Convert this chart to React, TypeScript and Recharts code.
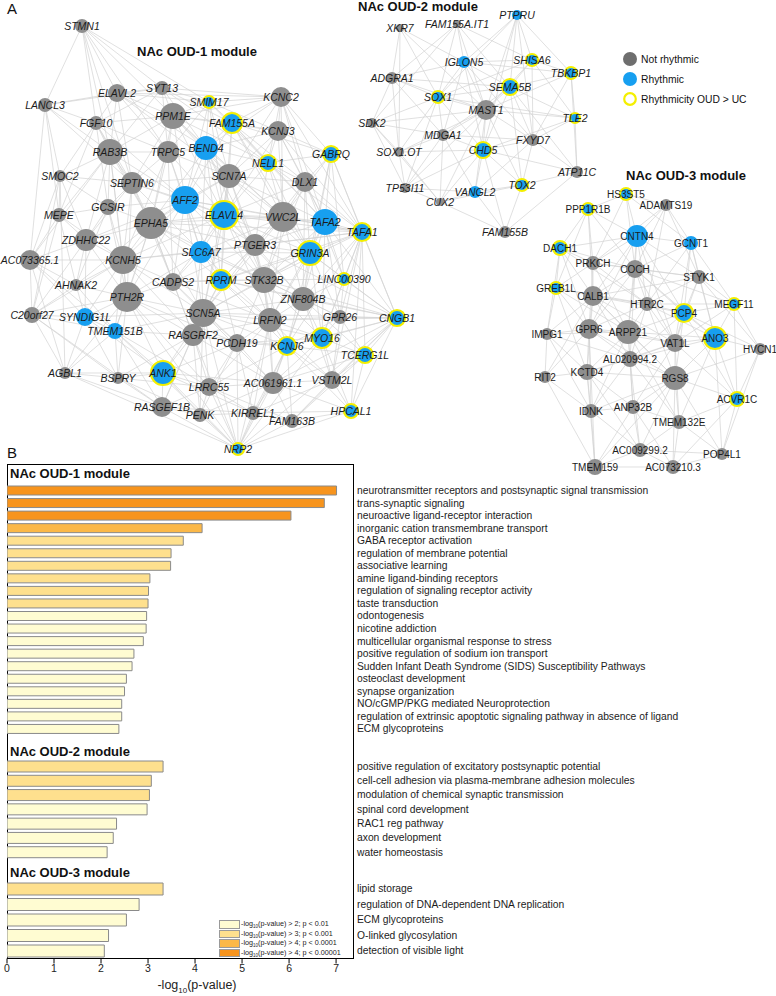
import React from 'react'
import { ComposedChart, Line, Scatter, XAxis, YAxis, BarChart, Bar, Cell } from 'recharts'

type Kind = 'n' | 'r' | 'y' // not rhythmic, rhythmic, rhythmic + OUD > UC ring
type NodeRow = [string, number, number, number, Kind]

const FONT = '"Liberation Sans", Arial, Helvetica, sans-serif'
const GRAY = '#8e8e8e'
const BLUE = '#179ff0'
const YELLOW = '#f4ef00'
const EDGE = '#d2d2d2'

// ---- panel A: co-expression modules (layout coordinates) ----
const OUD1_NODES: NodeRow[] = [
  ['STMN1', 82, 26, 7, 'n'], ['LANCL3', 45, 105, 7, 'n'], ['ELAVL2', 117, 93, 9, 'n'],
  ['SYT13', 162, 88, 7, 'n'], ['SMIM17', 209, 102, 6, 'y'], ['KCNC2', 281, 97, 10, 'n'],
  ['FGF10', 96, 123, 7, 'n'], ['PPM1E', 173, 116, 13, 'n'], ['FAM155A', 232, 123, 10, 'y'],
  ['KCNJ3', 278, 131, 10, 'n'], ['RAB3B', 110, 152, 13, 'n'], ['TRPC5', 168, 152, 11, 'n'],
  ['BEND4', 206, 148, 12, 'r'], ['NELL1', 268, 163, 8, 'y'], ['GABRQ', 331, 154, 8, 'y'],
  ['SMOC2', 60, 176, 6, 'n'], ['SEPTIN6', 132, 183, 11, 'n'], ['SCN7A', 229, 176, 12, 'n'],
  ['DLX1', 305, 182, 10, 'n'], ['AFF2', 185, 200, 14, 'r'], ['MEPE', 59, 215, 7, 'n'],
  ['GCSIR', 108, 207, 8, 'n'], ['ELAVL4', 224, 215, 14, 'y'], ['VWC2L', 283, 217, 15, 'n'],
  ['TAFA2', 325, 222, 13, 'r'], ['EPHA5', 151, 223, 16, 'n'], ['TAFA1', 362, 232, 9, 'y'],
  ['ZDHHC22', 86, 240, 11, 'n'], ['AC073365.1', 30, 260, 10, 'n'], ['PTGER3', 255, 245, 11, 'n'],
  ['SLC6A7', 201, 252, 11, 'r'], ['GRIN3A', 310, 253, 12, 'y'], ['KCNH5', 123, 260, 14, 'n'],
  ['CADPS2', 173, 282, 9, 'n'], ['RPRM', 221, 280, 10, 'y'], ['STK32B', 264, 280, 13, 'n'],
  ['LINC00390', 344, 279, 6, 'y'], ['AHNAK2', 76, 285, 6, 'n'], ['PTH2R', 127, 297, 15, 'n'],
  ['ZNF804B', 303, 299, 12, 'n'], ['C20orf27', 32, 315, 8, 'n'], ['SYNDIG1L', 85, 317, 9, 'r'],
  ['SCN5A', 203, 313, 14, 'n'], ['LRFN2', 270, 320, 12, 'n'], ['GPR26', 340, 317, 7, 'n'],
  ['CNGB1', 397, 318, 8, 'y'], ['TMEM151B', 115, 331, 8, 'r'], ['RASGRF2', 193, 335, 11, 'n'],
  ['PCDH19', 237, 343, 9, 'n'], ['KCNJ6', 287, 346, 9, 'y'], ['MYO16', 322, 338, 10, 'y'],
  ['TCERG1L', 365, 355, 8, 'y'], ['AGBL1', 65, 373, 6, 'n'], ['BSPRY', 118, 378, 6, 'n'],
  ['ANK1', 163, 373, 12, 'y'], ['LRRC55', 209, 387, 9, 'n'], ['AC061961.1', 273, 383, 11, 'n'],
  ['VSTM2L', 332, 380, 9, 'n'], ['RASGEF1B', 162, 407, 10, 'n'], ['PENK', 200, 415, 7, 'n'],
  ['KIRREL1', 253, 413, 7, 'n'], ['HPCAL1', 351, 411, 7, 'y'], ['FAM163B', 292, 421, 7, 'n'],
  ['NRP2', 238, 449, 6, 'y'],
]

const OUD1_EDGES: [string, string][] = [
  ['STMN1', 'LANCL3 ELAVL2 SYT13 FGF10 RAB3B SMIM17 PPM1E SEPTIN6 TRPC5'],
  ['LANCL3', 'ELAVL2 FGF10 SMOC2 RAB3B MEPE SYT13 AC073365.1 SEPTIN6'],
  ['ELAVL2', 'SYT13 SMIM17 PPM1E FGF10 RAB3B TRPC5 BEND4 KCNC2 SEPTIN6 SCN7A'],
  ['SYT13', 'SMIM17 KCNC2 PPM1E FAM155A BEND4 TRPC5 RAB3B FGF10 NELL1'],
  ['SMIM17', 'KCNC2 PPM1E FAM155A BEND4 KCNJ3 SCN7A NELL1 ELAVL4 AFF2 TRPC5'],
  ['KCNC2', 'KCNJ3 FAM155A GABRQ NELL1 DLX1 TAFA1 VWC2L SCN7A BEND4 PPM1E TAFA2'],
  ['FGF10', 'RAB3B PPM1E TRPC5 SEPTIN6 GCSIR SMOC2 MEPE EPHA5 AFF2'],
  ['PPM1E', 'FAM155A BEND4 TRPC5 RAB3B SCN7A AFF2 SEPTIN6 EPHA5 ELAVL4 KCNJ3 NELL1 VWC2L'],
  ['FAM155A', 'KCNJ3 BEND4 NELL1 SCN7A GABRQ ELAVL4 AFF2 DLX1 TAFA2 VWC2L GRIN3A'],
  ['KCNJ3', 'GABRQ NELL1 DLX1 SCN7A VWC2L TAFA2 ELAVL4 BEND4 TAFA1'],
  ['RAB3B', 'TRPC5 SEPTIN6 GCSIR EPHA5 ZDHHC22 KCNH5 AFF2 SMOC2 MEPE AC073365.1 PTH2R'],
  ['TRPC5', 'BEND4 SEPTIN6 AFF2 SCN7A EPHA5 ELAVL4 KCNH5 SLC6A7 CADPS2'],
  ['BEND4', 'SCN7A AFF2 ELAVL4 NELL1 EPHA5 SLC6A7 VWC2L PTGER3 RPRM STK32B'],
  ['NELL1', 'GABRQ DLX1 SCN7A VWC2L TAFA2 ELAVL4 GRIN3A TAFA1 PTGER3'],
  ['GABRQ', 'DLX1 TAFA1 TAFA2 VWC2L GRIN3A CNGB1 LINC00390 ZNF804B'],
  ['SMOC2', 'MEPE GCSIR AC073365.1 ZDHHC22 SEPTIN6 C20orf27 AGBL1'],
  ['SEPTIN6', 'GCSIR EPHA5 AFF2 ZDHHC22 KCNH5 SCN7A ELAVL4 PTH2R CADPS2 SLC6A7'],
  ['SCN7A', 'AFF2 ELAVL4 DLX1 VWC2L EPHA5 SLC6A7 PTGER3 TAFA2 GRIN3A RPRM STK32B SCN5A'],
  ['DLX1', 'VWC2L TAFA2 TAFA1 GRIN3A ELAVL4 PTGER3 ZNF804B STK32B LINC00390'],
  ['AFF2', 'ELAVL4 EPHA5 SLC6A7 KCNH5 PTGER3 CADPS2 RPRM VWC2L PTH2R SCN5A STK32B ZDHHC22'],
  ['MEPE', 'GCSIR ZDHHC22 AC073365.1 AHNAK2 C20orf27 KCNH5'],
  ['GCSIR', 'EPHA5 ZDHHC22 KCNH5 AFF2 AHNAK2 PTH2R'],
  ['ELAVL4', 'VWC2L EPHA5 SLC6A7 PTGER3 TAFA2 GRIN3A RPRM STK32B SCN5A CADPS2 LRFN2 ZNF804B KCNH5'],
  ['VWC2L', 'TAFA2 PTGER3 GRIN3A STK32B RPRM ZNF804B LRFN2 TAFA1 SLC6A7 SCN5A EPHA5'],
  ['TAFA2', 'GRIN3A TAFA1 PTGER3 STK32B ZNF804B LINC00390 LRFN2 MYO16 GPR26'],
  ['EPHA5', 'KCNH5 SLC6A7 ZDHHC22 PTH2R CADPS2 PTGER3 RPRM SCN5A STK32B RASGRF2 TMEM151B AHNAK2'],
  ['TAFA1', 'GRIN3A LINC00390 CNGB1 ZNF804B GPR26 STK32B PTGER3 MYO16 TCERG1L SLC6A7 RPRM KCNJ6 ELAVL4 AFF2 EPHA5 HPCAL1 VSTM2L'],
  ['ZDHHC22', 'KCNH5 AC073365.1 AHNAK2 PTH2R C20orf27 SYNDIG1L'],
  ['AC073365.1', 'C20orf27 AHNAK2 KCNH5 SYNDIG1L AGBL1 TMEM151B'],
  ['PTGER3', 'SLC6A7 GRIN3A STK32B RPRM ZNF804B CADPS2 SCN5A LRFN2 KCNH5'],
  ['SLC6A7', 'KCNH5 CADPS2 RPRM STK32B PTH2R SCN5A GRIN3A RASGRF2 LRFN2'],
  ['GRIN3A', 'STK32B LINC00390 ZNF804B LRFN2 GPR26 MYO16 RPRM CNGB1 KCNJ6 SCN5A'],
  ['KCNH5', 'PTH2R CADPS2 AHNAK2 SYNDIG1L SCN5A TMEM151B RASGRF2 C20orf27'],
  ['CADPS2', 'RPRM PTH2R SCN5A STK32B RASGRF2 LRFN2 PCDH19'],
  ['RPRM', 'STK32B SCN5A LRFN2 ZNF804B PCDH19 RASGRF2 KCNJ6'],
  ['STK32B', 'ZNF804B LRFN2 SCN5A LINC00390 GPR26 KCNJ6 MYO16 PCDH19 AC061961.1'],
  ['LINC00390', 'ZNF804B GPR26 CNGB1 MYO16'],
  ['AHNAK2', 'PTH2R C20orf27 SYNDIG1L TMEM151B'],
  ['PTH2R', 'SCN5A SYNDIG1L TMEM151B RASGRF2 ANK1 AGBL1 BSPRY LRRC55 C20orf27 PCDH19'],
  ['ZNF804B', 'LRFN2 GPR26 MYO16 KCNJ6 CNGB1 SCN5A AC061961.1 VSTM2L TCERG1L'],
  ['C20orf27', 'SYNDIG1L AGBL1 TMEM151B BSPRY RASGEF1B'],
  ['SYNDIG1L', 'TMEM151B AGBL1 BSPRY ANK1 SCN5A'],
  ['SCN5A', 'LRFN2 RASGRF2 PCDH19 TMEM151B ANK1 LRRC55 KCNJ6 AC061961.1 MYO16 RASGEF1B PENK'],
  ['LRFN2', 'GPR26 MYO16 KCNJ6 PCDH19 AC061961.1 RASGRF2 VSTM2L LRRC55 KIRREL1'],
  ['GPR26', 'MYO16 CNGB1 TCERG1L VSTM2L KCNJ6'],
  ['CNGB1', 'MYO16 TCERG1L HPCAL1 VSTM2L KCNJ6 LRFN2 STK32B PTGER3 AC061961.1 FAM163B NRP2 TAFA2 SCN5A RPRM'],
  ['TMEM151B', 'RASGRF2 ANK1 BSPRY AGBL1 LRRC55 RASGEF1B'],
  ['RASGRF2', 'PCDH19 ANK1 LRRC55 KCNJ6 AC061961.1 RASGEF1B PENK BSPRY'],
  ['PCDH19', 'KCNJ6 MYO16 LRRC55 AC061961.1 ANK1 KIRREL1 PENK'],
  ['KCNJ6', 'MYO16 AC061961.1 VSTM2L TCERG1L KIRREL1 HPCAL1 LRRC55 FAM163B'],
  ['MYO16', 'TCERG1L VSTM2L AC061961.1 HPCAL1'],
  ['TCERG1L', 'VSTM2L HPCAL1 AC061961.1 FAM163B'],
  ['AGBL1', 'BSPRY ANK1 RASGEF1B NRP2'],
  ['BSPRY', 'ANK1 RASGEF1B LRRC55 PENK'],
  ['ANK1', 'LRRC55 RASGEF1B PENK AC061961.1 KIRREL1 NRP2'],
  ['LRRC55', 'AC061961.1 RASGEF1B PENK KIRREL1 NRP2 FAM163B'],
  ['AC061961.1', 'VSTM2L KIRREL1 HPCAL1 FAM163B PENK NRP2'],
  ['VSTM2L', 'HPCAL1 FAM163B KIRREL1'],
  ['RASGEF1B', 'PENK NRP2 KIRREL1'],
  ['PENK', 'KIRREL1 NRP2'],
  ['KIRREL1', 'FAM163B NRP2 HPCAL1'],
  ['HPCAL1', 'FAM163B NRP2'],
  ['FAM163B', 'NRP2'],
  ['NRP2', 'SCN5A PTH2R RASGRF2 PCDH19 LRFN2 KCNJ6 MYO16 TMEM151B'],
]

const OUD2_NODES: NodeRow[] = [
  ['PTPRU', 517, 15, 5, 'r'], ['XKR7', 400, 28, 4, 'n'], ['FAM155A.IT1', 457, 24, 4, 'n'],
  ['IGLON5', 464, 62, 6, 'r'], ['SHISA6', 532, 60, 6, 'y'], ['TBKBP1', 571, 73, 6, 'y'],
  ['ADGRA1', 392, 78, 6, 'n'], ['SEMA5B', 510, 87, 8, 'y'], ['SOX1', 438, 97, 6, 'y'],
  ['MAST1', 486, 110, 10, 'n'], ['TLE2', 575, 118, 5, 'y'], ['SDK2', 372, 123, 5, 'n'],
  ['MDGA1', 443, 135, 6, 'n'], ['FXYD7', 533, 140, 6, 'n'], ['SOX1.OT', 399, 152, 5, 'n'],
  ['CHD5', 483, 150, 8, 'y'], ['ATP11C', 577, 172, 6, 'n'], ['TP53I11', 405, 188, 5, 'n'],
  ['VANGL2', 475, 192, 6, 'r'], ['TOX2', 522, 185, 6, 'y'], ['CUX2', 440, 202, 4, 'n'],
  ['FAM155B', 505, 232, 6, 'n'],
]

const OUD2_EDGES: [string, string][] = [
  ['XKR7', 'IGLON5 ADGRA1 SOX1 MAST1 SOX1.OT'],
  ['FAM155A.IT1', 'IGLON5 SOX1 SEMA5B MAST1 ADGRA1 SHISA6 SDK2'],
  ['PTPRU', 'IGLON5 SHISA6 SEMA5B MAST1 TBKBP1 FXYD7 CHD5 SOX1'],
  ['IGLON5', 'SHISA6 SEMA5B SOX1 MAST1 ADGRA1 MDGA1 CHD5 FXYD7 TBKBP1'],
  ['SHISA6', 'SEMA5B TBKBP1 MAST1 TLE2 FXYD7 SOX1'],
  ['TBKBP1', 'SEMA5B TLE2 ATP11C FXYD7 MAST1'],
  ['ADGRA1', 'SOX1 SDK2 SOX1.OT MAST1 MDGA1 SEMA5B'],
  ['SEMA5B', 'SOX1 MAST1 TLE2 FXYD7 CHD5 MDGA1 TOX2 ATP11C'],
  ['SOX1', 'MAST1 SDK2 MDGA1 SOX1.OT CHD5 TLE2 TP53I11'],
  ['MAST1', 'TLE2 MDGA1 FXYD7 CHD5 SOX1.OT TOX2 VANGL2 CUX2 TP53I11 SDK2'],
  ['TLE2', 'FXYD7 ATP11C CHD5'],
  ['SDK2', 'SOX1.OT MDGA1 TP53I11 CUX2'],
  ['MDGA1', 'SOX1.OT CHD5 FXYD7 TP53I11 CUX2 VANGL2'],
  ['FXYD7', 'CHD5 ATP11C TOX2 VANGL2'],
  ['SOX1.OT', 'CHD5 TP53I11 CUX2'],
  ['CHD5', 'TOX2 VANGL2 CUX2 ATP11C FAM155B TP53I11'],
  ['ATP11C', 'TOX2 FAM155B'],
  ['TOX2', 'VANGL2 FAM155B CUX2'],
  ['TP53I11', 'CUX2 VANGL2'],
  ['VANGL2', 'CUX2 FAM155B'],
  ['CUX2', 'FAM155B'],
]

const OUD3_NODES: NodeRow[] = [
  ['HS3ST5', 626, 194, 6, 'y'], ['ADAMTS19', 666, 205, 6, 'n'], ['PPP1R1B', 588, 209, 6, 'y'],
  ['CNTN4', 637, 236, 11, 'r'], ['GCNT1', 691, 243, 7, 'r'], ['DACH1', 560, 248, 7, 'y'],
  ['PRKCH', 593, 263, 7, 'n'], ['COCH', 635, 269, 9, 'n'], ['STYK1', 699, 277, 7, 'n'],
  ['GREB1L', 556, 288, 6, 'y'], ['CALB1', 593, 296, 10, 'n'], ['HTR2C', 647, 304, 7, 'n'],
  ['PCP4', 684, 313, 9, 'y'], ['MEGF11', 734, 304, 6, 'y'], ['IMPG1', 547, 334, 6, 'n'],
  ['GPR6', 589, 329, 10, 'n'], ['ARPP21', 628, 332, 12, 'n'], ['VAT1L', 675, 343, 9, 'n'],
  ['ANO3', 715, 338, 11, 'y'], ['HVCN1', 760, 349, 6, 'n'], ['AL020994.2', 630, 359, 8, 'n'],
  ['RIT2', 545, 377, 6, 'n'], ['KCTD4', 587, 372, 8, 'n'], ['RGS8', 675, 378, 12, 'n'],
  ['ACVR1C', 737, 399, 7, 'y'], ['IDNK', 591, 411, 7, 'n'], ['ANP32B', 633, 407, 7, 'n'],
  ['TMEM132E', 679, 422, 7, 'n'], ['AC009299.2', 640, 450, 7, 'n'], ['POP4L1', 722, 454, 6, 'n'],
  ['TMEM159', 595, 467, 8, 'n'], ['AC073210.3', 673, 467, 7, 'n'],
]

const OUD3_EDGES: [string, string][] = [
  ['HS3ST5', 'ADAMTS19 PPP1R1B CNTN4 COCH PRKCH GCNT1'],
  ['ADAMTS19', 'CNTN4 GCNT1 COCH STYK1 PRKCH HTR2C'],
  ['PPP1R1B', 'CNTN4 DACH1 PRKCH COCH CALB1 GREB1L'],
  ['CNTN4', 'GCNT1 DACH1 PRKCH COCH STYK1 CALB1 HTR2C PCP4 ARPP21 GPR6 VAT1L'],
  ['GCNT1', 'COCH STYK1 HTR2C PCP4 MEGF11 ANO3 VAT1L'],
  ['DACH1', 'PRKCH COCH GREB1L CALB1 IMPG1 GPR6 HTR2C'],
  ['PRKCH', 'COCH CALB1 GREB1L GPR6 HTR2C ARPP21 STYK1'],
  ['COCH', 'STYK1 CALB1 HTR2C PCP4 ARPP21 GPR6 VAT1L AL020994.2 ANO3 MEGF11'],
  ['STYK1', 'HTR2C PCP4 MEGF11 ANO3 VAT1L CALB1 HVCN1'],
  ['GREB1L', 'CALB1 IMPG1 GPR6 ARPP21 KCTD4 HTR2C'],
  ['CALB1', 'HTR2C GPR6 ARPP21 IMPG1 AL020994.2 KCTD4 PCP4 VAT1L RIT2 RGS8'],
  ['HTR2C', 'PCP4 ARPP21 VAT1L GPR6 MEGF11 ANO3 AL020994.2 RGS8'],
  ['PCP4', 'MEGF11 ANO3 VAT1L ARPP21 RGS8 AL020994.2 HVCN1 ACVR1C'],
  ['MEGF11', 'ANO3 HVCN1 VAT1L ACVR1C'],
  ['IMPG1', 'GPR6 RIT2 KCTD4 ARPP21 AL020994.2 IDNK'],
  ['GPR6', 'ARPP21 AL020994.2 KCTD4 RIT2 IDNK VAT1L RGS8 TMEM159'],
  ['ARPP21', 'VAT1L AL020994.2 KCTD4 RGS8 ANP32B IDNK ANO3 TMEM132E'],
  ['VAT1L', 'ANO3 RGS8 AL020994.2 ANP32B TMEM132E ACVR1C KCTD4'],
  ['ANO3', 'HVCN1 RGS8 ACVR1C TMEM132E POP4L1 AL020994.2'],
  ['HVCN1', 'ACVR1C RGS8 POP4L1'],
  ['AL020994.2', 'KCTD4 RGS8 ANP32B IDNK TMEM132E AC009299.2'],
  ['RIT2', 'KCTD4 IDNK TMEM159'],
  ['KCTD4', 'IDNK ANP32B RGS8 TMEM159 AC009299.2'],
  ['RGS8', 'ANP32B TMEM132E ACVR1C AC009299.2 AC073210.3 POP4L1 IDNK TMEM159'],
  ['ACVR1C', 'TMEM132E POP4L1 AC073210.3'],
  ['IDNK', 'ANP32B TMEM159 AC009299.2'],
  ['ANP32B', 'TMEM132E AC009299.2 TMEM159 AC073210.3'],
  ['TMEM132E', 'AC009299.2 AC073210.3 POP4L1'],
  ['AC009299.2', 'TMEM159 AC073210.3 POP4L1'],
  ['POP4L1', 'AC073210.3'],
  ['TMEM159', 'AC073210.3'],
]

// ---- panel B: enrichment ----
const OUD1_TERMS = [
  'neurotransmitter receptors and postsynaptic signal transmission',
  'trans-synaptic signaling',
  'neuroactive ligand-receptor interaction',
  'inorganic cation transmembrane transport',
  'GABA receptor activation',
  'regulation of membrane potential',
  'associative learning',
  'amine ligand-binding receptors',
  'regulation of signaling receptor activity',
  'taste transduction',
  'odontogenesis',
  'nicotine addiction',
  'multicellular organismal response to stress',
  'positive regulation of sodium ion transport',
  'Sudden Infant Death Syndrome (SIDS) Susceptibility Pathways',
  'osteoclast development',
  'synapse organization',
  'NO/cGMP/PKG mediated Neuroprotection',
  'regulation of extrinsic apoptotic signaling pathway in absence of ligand',
  'ECM glycoproteins',
]
const OUD1_LOGP = [7.01, 6.75, 6.04, 4.15, 3.75, 3.49, 3.48, 3.04, 3.01, 3.0, 2.97, 2.96, 2.9, 2.7, 2.66, 2.54, 2.5, 2.44, 2.44, 2.38]

const OUD2_TERMS = [
  'positive regulation of excitatory postsynaptic potential',
  'cell-cell adhesion via plasma-membrane adhesion molecules',
  'modulation of chemical synaptic transmission',
  'spinal cord development',
  'RAC1 reg pathway',
  'axon development',
  'water homeostasis',
]
const OUD2_LOGP = [3.32, 3.07, 3.03, 2.98, 2.33, 2.26, 2.13]

const OUD3_TERMS = [
  'lipid storage',
  'regulation of DNA-dependent DNA replication',
  'ECM glycoproteins',
  'O-linked glycosylation',
  'detection of visible light',
]
const OUD3_LOGP = [3.32, 2.81, 2.54, 2.16, 2.07]

const X_TICKS = [0, 1, 2, 3, 4, 5, 6, 7]
const SIG_LEVELS = [
  { gt: 2, p: '0.01', color: '#fffcd2' },
  { gt: 3, p: '0.001', color: '#fee08e' },
  { gt: 4, p: '0.0001', color: '#fbb848' },
  { gt: 4, p: '0.00001', color: '#f7941d' },
]

function barColor(v: number) {
  if (v > 5) return SIG_LEVELS[3].color
  if (v > 4) return SIG_LEVELS[2].color
  if (v >= 3) return SIG_LEVELS[1].color
  return SIG_LEVELS[0].color
}

function toNodes(rows: NodeRow[], italic: boolean) {
  return rows.map(([id, x, y, r, k]) => ({ id, x, y, r, k, italic }))
}

// edges become one polyline per module, broken by null points
function toEdgePath(nodes: { id: string; x: number; y: number }[], adj: [string, string][]) {
  const pos = new Map(nodes.map((n) => [n.id, n]))
  const pts: { x: number; y: number | null }[] = []
  adj.forEach(([a, list]) => {
    list.split(' ').forEach((b) => {
      const p = pos.get(a)
      const q = pos.get(b)
      if (!p || !q) return
      pts.push({ x: p.x, y: p.y }, { x: q.x, y: q.y }, { x: q.x, y: null })
    })
  })
  return pts
}

const nodes1 = toNodes(OUD1_NODES, true)
const nodes2 = toNodes(OUD2_NODES, true)
const nodes3 = toNodes(OUD3_NODES, false)
const allNodes = [...nodes1, ...nodes2, ...nodes3]

function NodeDot(props: any) {
  const { cx, cy, payload } = props
  if (cx == null || cy == null) return null
  return (
    <circle
      cx={cx}
      cy={cy}
      r={payload.r}
      fill={payload.k === 'n' ? GRAY : BLUE}
      stroke={payload.k === 'y' ? YELLOW : 'none'}
      strokeWidth={2.2}
    />
  )
}

function NodeLabel(props: any) {
  const { cx, cy, payload } = props
  if (cx == null || cy == null) return null
  return (
    <text
      x={cx}
      y={cy}
      textAnchor="middle"
      dominantBaseline="central"
      fontSize={payload.italic ? 10.5 : 10}
      fontStyle={payload.italic ? 'italic' : 'normal'}
      fontFamily={FONT}
      fill="#1c1c1c"
    >
      {payload.id}
    </text>
  )
}

function Network() {
  return (
    <ComposedChart width={776} height={480} margin={{ top: 0, right: 0, bottom: 0, left: 0 }}>
      <XAxis type="number" dataKey="x" domain={[0, 776]} allowDataOverflow hide />
      <YAxis type="number" dataKey="y" domain={[0, 480]} allowDataOverflow reversed hide />
      <Line data={toEdgePath(nodes1, OUD1_EDGES)} dataKey="y" stroke={EDGE} strokeWidth={0.7} dot={false} activeDot={false} isAnimationActive={false} />
      <Line data={toEdgePath(nodes2, OUD2_EDGES)} dataKey="y" stroke={EDGE} strokeWidth={0.7} dot={false} activeDot={false} isAnimationActive={false} />
      <Line data={toEdgePath(nodes3, OUD3_EDGES)} dataKey="y" stroke={EDGE} strokeWidth={0.7} dot={false} activeDot={false} isAnimationActive={false} />
      <Scatter data={allNodes} shape={NodeDot} isAnimationActive={false} />
      <Scatter data={allNodes} shape={NodeLabel} isAnimationActive={false} />
    </ComposedChart>
  )
}

// single-line term label to the right of the plot
function TermTick(props: any) {
  const { x, y, payload } = props
  return (
    <text x={x} y={y} dy="0.36em" textAnchor="start" fontSize={10.3} fontFamily={FONT} fill="#1c1c1c">
      {payload.value}
    </text>
  )
}

function EnrichBars({ terms, values, top, height, barSize, showAxis }: {
  terms: string[]; values: number[]; top: number; height: number; barSize: number; showAxis?: boolean
}) {
  const rows = terms.map((term, i) => ({ term, value: values[i] }))
  return (
    <div style={{ position: 'absolute', left: 0, top }}>
      <BarChart
        layout="vertical"
        width={776}
        height={height}
        data={rows}
        margin={{ top: 0, right: 0, bottom: 0, left: 7 }}
      >
        <XAxis
          type="number"
          domain={[0, 7.36]}
          allowDataOverflow
          ticks={X_TICKS}
          hide={!showAxis}
          height={28}
          tickSize={5}
          tickMargin={1}
          axisLine={{ stroke: '#000' }}
          tickLine={{ stroke: '#000' }}
          tick={{ fontSize: 10.5, fill: '#222', fontFamily: FONT }}
        />
        <YAxis
          type="category"
          dataKey="term"
          orientation="right"
          width={423}
          interval={0}
          axisLine={false}
          tickLine={false}
          tickSize={0}
          tickMargin={4}
          tick={<TermTick />}
        />
        <Bar dataKey="value" barSize={barSize} stroke="#8a8a8a" strokeWidth={1} isAnimationActive={false}>
          {rows.map((r, i) => (
            <Cell key={i} fill={barColor(r.value)} />
          ))}
        </Bar>
      </BarChart>
    </div>
  )
}

const abs = (left: number, top: number, extra: React.CSSProperties = {}): React.CSSProperties => ({
  position: 'absolute', left, top, fontFamily: FONT, color: '#111', whiteSpace: 'nowrap', ...extra,
})

export default function App() {
  const title: React.CSSProperties = { fontSize: 13, fontWeight: 'bold', lineHeight: '16px' }
  const legendNodes = [
    { label: 'Not rhythmic', fill: '#6e6e6e', stroke: 'none' },
    { label: 'Rhythmic', fill: BLUE, stroke: 'none' },
    { label: 'Rhythmicity OUD > UC', fill: '#fff', stroke: YELLOW },
  ]
  return (
    <div style={{ position: 'absolute', left: 0, top: 0, width: 776, height: 996, background: '#fff', overflow: 'hidden' }}>
      <div style={abs(0, 0)}>
        <Network />
      </div>

      <div style={abs(7, 1, { fontSize: 15, lineHeight: '15px' })}>A</div>
      <div style={abs(197, 52, { ...title, transform: 'translate(-50%, -50%)' })}>NAc OUD-1 module</div>
      <div style={abs(358, -1, title)}>NAc OUD-2 module</div>
      <div style={abs(686, 176, { ...title, transform: 'translate(-50%, -50%)' })}>NAc OUD-3 module</div>

      {legendNodes.map((l, i) => (
        <div key={l.label} style={abs(623, 52 + i * 20, { display: 'flex', alignItems: 'center', height: 14, fontSize: 10.3 })}>
          <svg width={14} height={14}>
            <circle cx={7} cy={7} r={l.stroke === 'none' ? 7 : 5.8} fill={l.fill} stroke={l.stroke} strokeWidth={2.2} />
          </svg>
          <span style={{ marginLeft: 4 }}>{l.label}</span>
        </div>
      ))}

      <div style={abs(7, 445, { fontSize: 15, lineHeight: '15px' })}>B</div>
      <div style={{ position: 'absolute', left: 7, top: 464, width: 347, height: 495, border: '1px solid #000', boxSizing: 'border-box', background: '#fff' }} />

      <div style={abs(10, 466, title)}>NAc OUD-1 module</div>
      <div style={abs(10, 744, title)}>NAc OUD-2 module</div>
      <div style={abs(10, 865, title)}>NAc OUD-3 module</div>

      <EnrichBars terms={OUD1_TERMS} values={OUD1_LOGP} top={484} height={251} barSize={9} />
      <EnrichBars terms={OUD2_TERMS} values={OUD2_LOGP} top={759} height={100} barSize={11} />
      <EnrichBars terms={OUD3_TERMS} values={OUD3_LOGP} top={880.5} height={105.5} barSize={12} showAxis />

      {SIG_LEVELS.map((s, i) => (
        <div key={i} style={abs(219, 920 + i * 9.6, { display: 'flex', alignItems: 'center', height: 8.5, fontSize: 7.2, lineHeight: '8px', color: '#222' })}>
          <span style={{ display: 'inline-block', width: 21, height: 8.5, background: s.color, border: '1px solid #9a9a9a', boxSizing: 'border-box' }} />
          <span style={{ marginLeft: 1 }}>
            -log<sub style={{ fontSize: 4.5, lineHeight: 0 }}>10</sub>(p-value) &gt; {s.gt}; p &lt; {s.p}
          </span>
        </div>
      ))}

      <div style={abs(197, 985, { fontSize: 12.5, lineHeight: '14px', transform: 'translate(-50%, -50%)', color: '#222' })}>
        -log<sub style={{ fontSize: 8, lineHeight: 0 }}>10</sub>(p-value)
      </div>
    </div>
  )
}
